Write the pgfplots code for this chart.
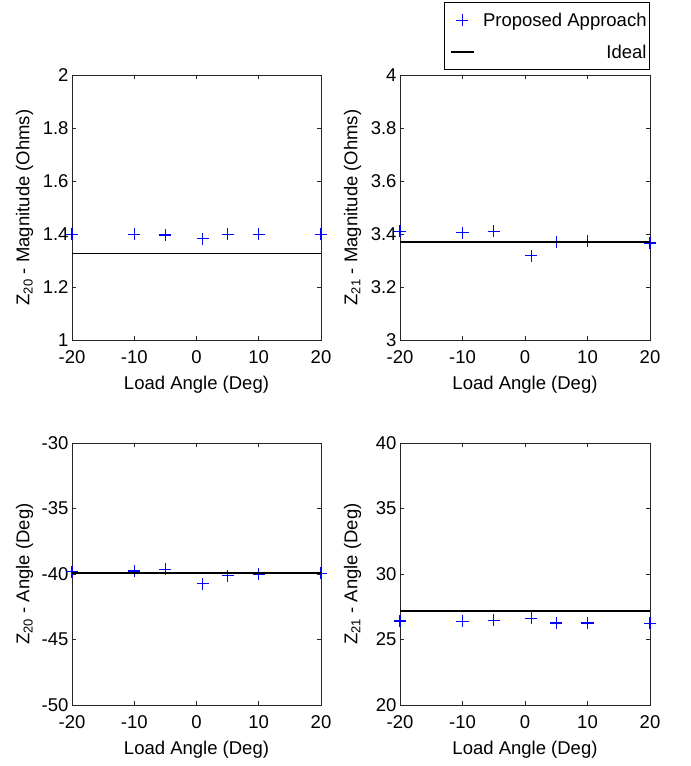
\documentclass[border=0pt]{standalone}
\usepackage{fontspec}
\setmainfont{Liberation Sans}
\usepackage{pgfplots}
\pgfplotsset{compat=1.18}
\definecolor{axgray}{RGB}{38,38,38}
\definecolor{mblue}{rgb}{0.01,0.01,0.99}
\pgfplotsset{
  mystyle/.style={
    scale only axis,
    width=249bp,
    xmin=-20, xmax=20,
    xtick={-20,-10,0,10,20},
    tick align=inside,
    tick pos=both,
    major tick length=4bp,
    axis line style={axgray, line width=0.8bp},
    every tick/.style={axgray, line width=0.8bp},
    font=\fontsize{18.5bp}{22bp}\selectfont,
    /pgf/number format/assume math mode=true,
    ticklabel style={font=\fontsize{18.5bp}{22bp}\selectfont},
    xticklabel style={yshift=-7bp},
    xlabel={Load Angle (Deg)},
    xlabel style={at={(axis description cs:0.5,-0.17)}, anchor=center},
    ylabel style={at={(axis description cs:-0.19,0.5)}, anchor=center},
    clip=false,
  },
  pts/.style={mblue, draw=none, no marks,
    legend image code/.code={%
      \path (0bp,0bp) (34bp,0bp);
      \draw[mblue, line width=1.3bp] (15bp,-6bp) -- (15bp,6bp) (9bp,0bp) -- (21bp,0bp);},
    error bars/.cd,
      x dir=both, x fixed=0.965,
      y dir=both, y fixed=#1,
      error mark=none,
      error bar style={color=mblue, draw=mblue, line width=1.3bp, solid}},
  ideal/.style={black, line width=1.5bp, no marks,
    legend image code/.code={%
      \path (0bp,0bp) (34bp,0bp);
      \draw[black, line width=1.5bp] (4bp,0bp) -- (27bp,0bp);}},
}
\begin{document}
\begin{tikzpicture}
\path[use as bounding box] (0,0) rectangle (691bp,-766bp);

% Top-left
\begin{axis}[mystyle, height=265bp, at={(72bp,-75bp)}, anchor=north west,
  ymin=1, ymax=2, ytick={1,1.2,1.4,1.6,1.8,2},
  ylabel={Z\textsubscript{20} - Magnitude (Ohms)}]
\addplot[pts=0.0226] coordinates {(-20,1.399) (-10,1.399) (-5,1.396) (1,1.382) (5,1.399) (10,1.399) (20,1.399)};
\addplot[ideal] coordinates {(-20,1.327) (20,1.327)};
\end{axis}

% Top-right
\begin{axis}[mystyle, height=265bp, at={(400bp,-75bp)}, anchor=north west, width=250bp,
  ymin=3, ymax=4, ytick={3,3.2,3.4,3.6,3.8,4},
  ylabel={Z\textsubscript{21} - Magnitude (Ohms)},
  legend style={at={(axis description cs:1,1.019)}, anchor=south east,
    draw=black, fill=white, line width=0.8bp,
    font=\fontsize{18.5bp}{22bp}\selectfont,
    nodes={inner xsep=1bp},
    cells={anchor=east}, row sep=13bp, inner xsep=2bp, inner ysep=8bp},
  legend cell align=right]
\addplot[pts=0.0226] coordinates {(-20,3.410) (-10,3.405) (-5,3.410) (1,3.318) (5,3.369) (10,3.372) (20,3.366)};
\addlegendentry{Proposed Approach}
\addplot[ideal] coordinates {(-20,3.370) (20,3.370)};
\addlegendentry{Ideal}
\end{axis}

% Bottom-left
\begin{axis}[mystyle, height=262bp, at={(72bp,-443bp)}, anchor=north west,
  ymin=-50, ymax=-30, ytick={-50,-45,-40,-35,-30},
  ylabel={Z\textsubscript{20} - Angle (Deg)}]
\addplot[pts=0.458] coordinates {(-20,-39.82) (-10,-39.77) (-5,-39.64) (1,-40.74) (5,-40.13) (10,-40.0) (20,-39.95)};
\addplot[ideal] coordinates {(-20,-39.92) (20,-39.92)};
\end{axis}

% Bottom-right
\begin{axis}[mystyle, height=262bp, at={(400bp,-443bp)}, anchor=north west, width=250bp,
  ymin=20, ymax=40, ytick={20,25,30,35,40},
  ylabel={Z\textsubscript{21} - Angle (Deg)}]
\addplot[pts=0.458] coordinates {(-20,26.41) (-10,26.39) (-5,26.47) (1,26.62) (5,26.26) (10,26.26) (20,26.24)};
\addplot[ideal] coordinates {(-20,27.18) (20,27.18)};
\end{axis}
\end{tikzpicture}
\end{document}
